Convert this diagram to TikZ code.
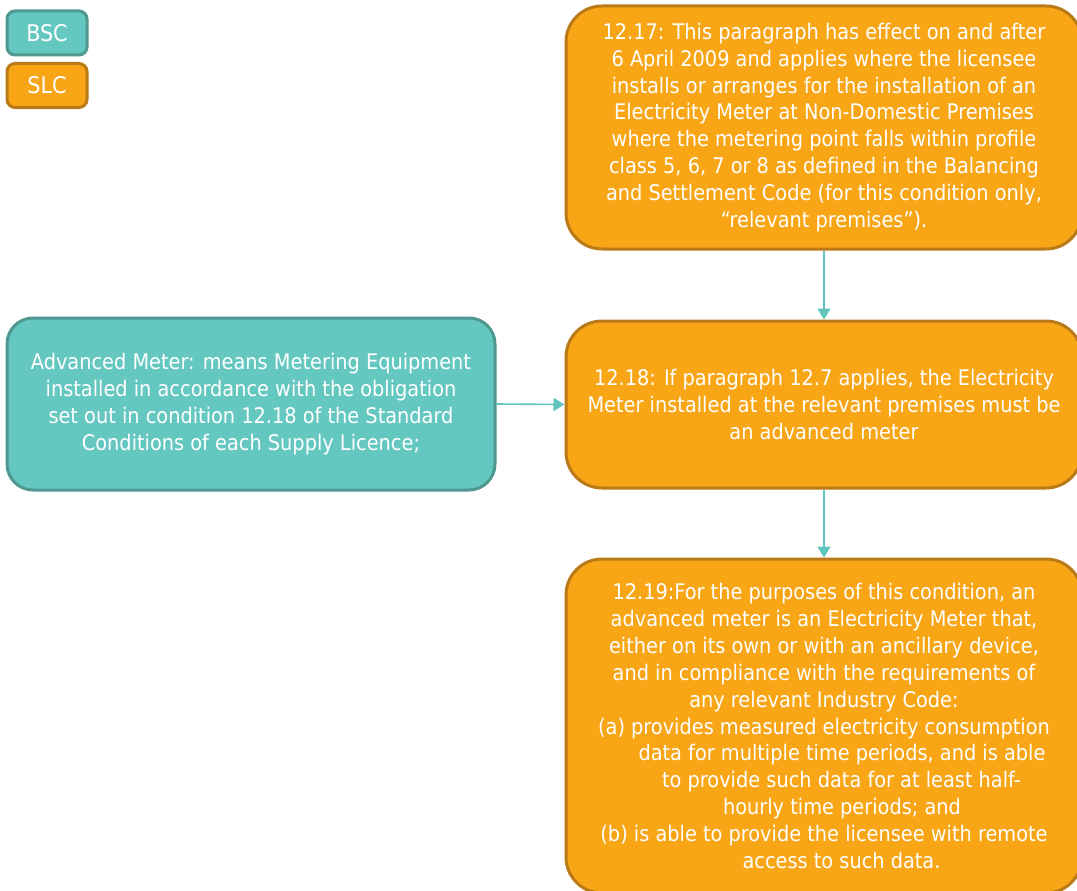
\documentclass[tikz,border=0pt]{standalone}
\usepackage{fontspec}
\setmainfont{DejaVu Sans Condensed}
\usetikzlibrary{arrows.meta}
\definecolor{org}{HTML}{F8A516}
\definecolor{orgd}{HTML}{B97A17}
\definecolor{tealf}{HTML}{64C7C0}
\definecolor{teald}{HTML}{4E9891}
\definecolor{arr}{HTML}{5FC4BD}
\tikzset{
  base/.style={rectangle, line width=3pt, text=white, align=center, inner sep=0pt,
    font=\fontsize{21.5}{26.9}\selectfont},
  obox/.style={base, draw=orgd, fill=org, rounded corners=36pt},
  tbox/.style={base, draw=teald, fill=tealf, rounded corners=26pt},
  legendbox/.style={base, rounded corners=8pt, minimum width=80pt, minimum height=44pt,
    font=\fontsize{23}{26}\selectfont},
  olegend/.style={legendbox, draw=orgd, fill=org},
  tlegend/.style={legendbox, draw=teald, fill=tealf},
  link/.style={draw=arr, line width=1.6pt, -{Triangle[length=11pt,width=13pt]}}
}
\begin{document}
\begin{tikzpicture}[x=1pt,y=-1pt]
\useasboundingbox (0,0) rectangle (1077,891);
\clip (0,0) rectangle (1077,891);
\node[tlegend] (bsc) at (47,33) {BSC};
\node[olegend] (slc) at (47,85.5) {SLC};
\node[obox, minimum width=516pt, minimum height=243pt] (p17) at (824,127.5) {12.17: This paragraph has effect on and after\\6 April 2009 and applies where the licensee\\installs or arranges for the installation of an\\Electricity Meter at Non-Domestic Premises\\where the metering point falls within profile\\class 5, 6, 7 or 8 as defined in the Balancing\\and Settlement Code (for this condition only,\\“relevant premises”).};
\node[obox, minimum width=516pt, minimum height=167pt] (p18) at (824,404.5) {12.18: If paragraph 12.7 applies, the Electricity\\Meter installed at the relevant premises must be\\an advanced meter};
\node[obox, minimum width=516pt, minimum height=334pt] (p19) at (824,726) {12.19:For the purposes of this condition, an\\advanced meter is an Electricity Meter that,\\either on its own or with an ancillary device,\\and in compliance with the requirements of\\any relevant Industry Code:\\(a) provides measured electricity consumption\\\hspace*{36pt}data for multiple time periods, and is able\\\hspace*{35pt}to provide such data for at least half-\\\hspace*{36pt}hourly time periods; and\\(b) is able to provide the licensee with remote\\\hspace*{35pt}access to such data.};
\node[tbox, minimum width=488pt, minimum height=172pt] (adv) at (251,404) {Advanced Meter: means Metering Equipment\\installed in accordance with the obligation\\set out in condition 12.18 of the Standard\\Conditions of each Supply Licence;};
\draw[link] (p17.south) -- (p18.north);
\draw[link] (p18.south) -- (p19.north);
\draw[link] (adv.east) -- (p18.west);
\end{tikzpicture}
\end{document}
